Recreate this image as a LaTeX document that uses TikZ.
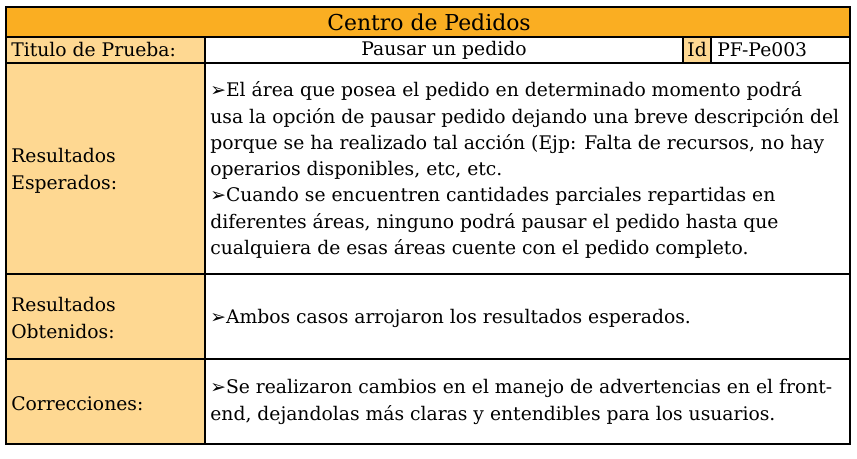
\documentclass[tikz,border=0pt]{standalone}
\usepackage{fontspec}
\setmainfont{DejaVu Serif}
\newfontfamily\simbolo{DejaVu Sans}
\definecolor{cabecera}{RGB}{250,174,34}
\definecolor{celda}{RGB}{254,216,146}
\def\flecha{{\simbolo\fontsize{16}{22}\selectfont ➢}}

\begin{document}
\begin{tikzpicture}[x=0.03cm, y=-0.03cm, line width=2.3pt,
	texto/.style={inner sep=0pt, anchor=west, align=left, font=\fontsize{16}{22.4}\selectfont},
	rotulo/.style={texto, font=\fontsize{16}{23}\selectfont}]
			\useasboundingbox (0,0) rectangle (857,459);
			%%%%% START %%%%%
			\draw[fill=cabecera] (6, 7) rectangle (850, 37);
			\draw[fill=celda] (6, 37) rectangle (205, 444);
			\draw[fill=celda] (683, 37) rectangle (711, 63);
			
			\draw (6, 37) -- (850, 37);
			\draw (6, 63) -- (850, 63);
			\draw (6, 274) -- (850, 274);
			\draw (6, 359) -- (850, 359);
			\draw (205, 37) -- (205, 444);
			\draw (6, 7) rectangle (850, 444);
			
			\node[font=\fontsize{18.7}{23}\selectfont, inner sep=0pt] (titulo) at (429, 22) {Centro de Pedidos};
			
			\node[texto] (prueba) at (10, 50) {Titulo de Prueba:};
			\node[texto, anchor=center] (nombre) at (444, 50) {Pausar un pedido};
			\node[texto] (id) at (686, 50) {Id};
			\node[texto] (codigo) at (716, 50) {PF-Pe003};
			
			\node[rotulo] (esperados) at (10, 171) {Resultados\\Esperados:};
			\node[texto] (detalle) at (209, 170) {\flecha El área que posea el pedido en determinado momento podrá\\
				usa la opción de pausar pedido dejando una breve descripción del\\
				porque se ha realizado tal acción (Ejp: Falta de recursos, no hay\\
				operarios disponibles, etc, etc.\\
				\flecha Cuando se encuentren cantidades parciales repartidas en\\
				diferentes áreas, ninguno podrá pausar el pedido hasta que\\
				cualquiera de esas áreas cuente con el pedido completo.};
			
			\node[rotulo] (obtenidos) at (10, 318) {Resultados\\Obtenidos:};
			\node[texto] (ambos) at (209, 318) {\flecha Ambos casos arrojaron los resultados esperados.};
			
			\node[texto] (correcciones) at (10, 404) {Correcciones:};
			\node[texto] (cambios) at (209, 402) {\flecha Se realizaron cambios en el manejo de advertencias en el front-\\
				end, dejandolas más claras y entendibles para los usuarios.};
			%%%%% END %%%%%
		\end{tikzpicture}
\end{document}
